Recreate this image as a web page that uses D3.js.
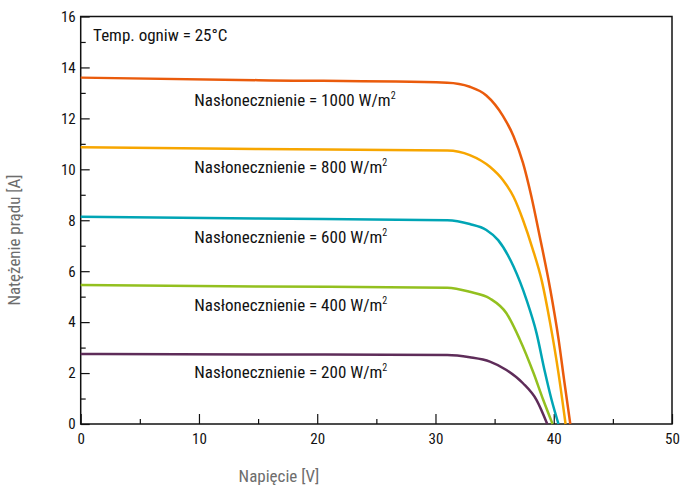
<!DOCTYPE html>
<html>
<head>
<meta charset="utf-8">
<script src="https://cdn.jsdelivr.net/npm/d3@7"></script>
<style>
  body { margin: 0; background: #fff; }
  svg text { font-family: "Liberation Sans Narrow", "Arial Narrow", "Roboto Condensed", sans-serif; }
</style>
</head>
<body>
<div id="chart"></div>
<script>
// Irradiance levels (W/m2) and their colours
const irradiance = [1000, 800, 600, 400, 200];
const colors = ['#ea5b0c', '#f7a600', '#00a5b5', '#93c01f', '#5e2c59'];

// I-V curves: voltage [V] and current [A]
const v1000 = [0, 15, 31, 32.9, 34.3, 35.7, 36.6, 37.4, 38.1, 38.8, 39.7, 40.4, 40.9, 41.4];
const i1000 = [13.6, 13.5, 13.4, 13.24, 12.9, 12.1, 11.3, 10.25, 8.95, 7.4, 5.3, 3.35, 1.65, 0];
const v800 = [0, 15, 31, 32.9, 34.6, 35.7, 36.6, 37.4, 38.2, 39.0, 39.7, 40.4, 41.0];
const i800 = [10.87, 10.8, 10.74, 10.56, 10.1, 9.58, 8.92, 8.01, 6.9, 5.6, 3.95, 2.0, 0];
const v600 = [0, 15, 31, 32.9, 34.3, 35.3, 36.6, 37.7, 38.55, 39.25, 39.8, 40.4];
const i600 = [8.14, 8.07, 8.0, 7.85, 7.62, 7.22, 6.18, 4.87, 3.56, 2.05, 0.98, 0];
const v400 = [0, 15, 31, 32.9, 34.6, 36.0, 37.1, 38.3, 39.1, 39.9];
const i400 = [5.46, 5.4, 5.35, 5.19, 4.93, 4.35, 3.35, 1.99, 0.96, 0];
const v200 = [0, 15, 31, 32.9, 34.6, 36.0, 37.4, 38.55, 39.45];
const i200 = [2.75, 2.73, 2.71, 2.62, 2.45, 2.12, 1.6, 0.94, 0];

// current level at which each curve label's baseline sits
const labelCurrent = [12.5, 9.85, 7.1, 4.44, 1.81];

const xTicks = [0, 10, 20, 30, 40, 50];
const xMinor = [5, 15, 25, 35, 45];
const yTicks = [0, 2, 4, 6, 8, 10, 12, 14, 16];
const yMinor = [1, 3, 5, 7, 9, 11, 13, 15];

const series = [
  { v: v1000, i: i1000 },
  { v: v800, i: i800 },
  { v: v600, i: i600 },
  { v: v400, i: i400 },
  { v: v200, i: i200 }
];

const W = 681, H = 487;
const margin = { top: 16.5, right: 9, bottom: 63, left: 80.7 };
const width = W - margin.left - margin.right;
const height = H - margin.top - margin.bottom;

const svg = d3.select('#chart').append('svg')
  .attr('width', W).attr('height', H)
  .append('g')
  .attr('transform', `translate(${margin.left},${margin.top})`);

const x = d3.scaleLinear().domain([0, 50]).range([0, width]);
const y = d3.scaleLinear().domain([0, 16]).range([height, 0]);

// minor ticks
svg.append('g').attr('transform', `translate(0,${height})`)
  .call(d3.axisBottom(x).tickValues(xMinor).tickSize(-5).tickSizeOuter(0).tickFormat(''))
  .call(g => g.select('.domain').remove());
svg.append('g')
  .call(d3.axisLeft(y).tickValues(yMinor).tickSize(-5).tickSizeOuter(0).tickFormat(''))
  .call(g => g.select('.domain').remove());

// major ticks + labels
const xAxis = svg.append('g').attr('transform', `translate(0,${height})`)
  .call(d3.axisBottom(x).tickValues(xTicks).tickSize(-10).tickSizeOuter(0).tickPadding(9));
const yAxis = svg.append('g')
  .call(d3.axisLeft(y).tickValues(yTicks).tickSize(-9).tickSizeOuter(0).tickPadding(5));

[xAxis, yAxis].forEach(g => {
  g.select('.domain').remove();
  g.selectAll('.tick text').attr('fill', '#111').style('font-size', '15px');
});
svg.selectAll('.tick line').attr('stroke', '#111').attr('stroke-width', 1.2);

// frame
svg.append('rect').attr('width', width).attr('height', height)
  .attr('fill', 'none').attr('stroke', '#111').attr('stroke-width', 1.5);

// curves
const line = d3.line().x(d => x(d[0])).y(d => y(d[1])).curve(d3.curveMonotoneX);
series.forEach((s, k) => {
  svg.append('path')
    .datum(d3.zip(s.v, s.i))
    .attr('d', line)
    .attr('fill', 'none')
    .attr('stroke', colors[k])
    .attr('stroke-width', 2.5);
});

// curve labels
irradiance.forEach((irr, k) => {
  const t = svg.append('text')
    .attr('x', x(9.6)).attr('y', y(labelCurrent[k]))
    .attr('fill', '#111').style('font-size', '17px');
  t.append('tspan').text(`Nasłonecznienie = ${irr} W/m`);
  t.append('tspan').attr('dy', -7).style('font-size', '10px').text('2');
});

svg.append('text')
  .attr('x', x(1.05)).attr('y', y(15.05))
  .attr('fill', '#111').style('font-size', '17px')
  .text('Temp. ogniw = 25°C');

// axis titles
svg.append('text')
  .attr('x', 279 - margin.left).attr('y', 481.5 - margin.top)
  .attr('text-anchor', 'middle').attr('fill', '#6d6d6d').style('font-size', '17px')
  .text('Napięcie [V]');
svg.append('text')
  .attr('transform', `translate(${20 - margin.left},${240 - margin.top}) rotate(-90)`)
  .attr('text-anchor', 'middle').attr('fill', '#6d6d6d').style('font-size', '17px')
  .text('Natężenie prądu [A]');
</script>
</body>
</html>
